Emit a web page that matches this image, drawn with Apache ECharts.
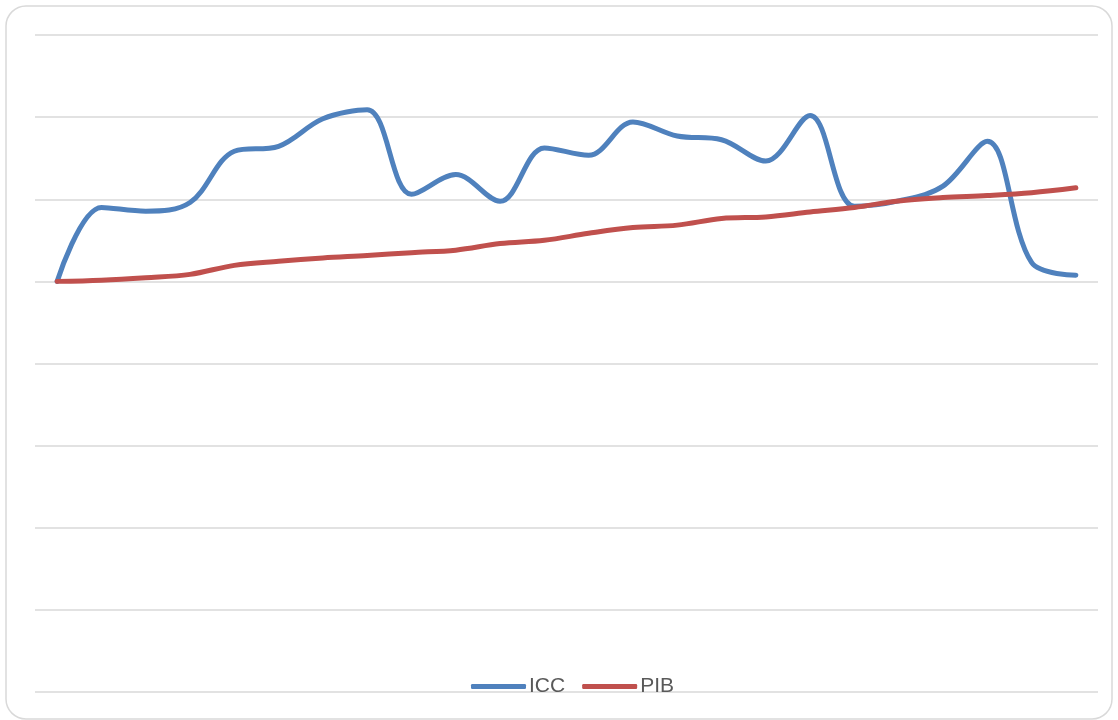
<!DOCTYPE html>
<html>
<head>
<meta charset="utf-8">
<title>ICC / PIB</title>
<script src="https://cdn.jsdelivr.net/npm/echarts@6/dist/echarts.min.js"></script>
<style>
    html, body { margin: 0; padding: 0; background: #fff; }
    #chart { width: 1118px; height: 720px; }
</style>
</head>
<body>
<div id="chart"></div>
<script>
    // periodos (trimestres), sin etiquetas visibles en el original
    var periods = ['1', '2', '3', '4', '5', '6', '7', '8', '9', '10', '11', '12',
                   '13', '14', '15', '16', '17', '18', '19', '20', '21', '22', '23', '24'];

    var icc = [0, 18.0, 17.1, 19.2, 31.7, 32.9, 39.6, 41.8, 21.2, 26.0, 19.5, 32.5,
               30.7, 38.8, 35.4, 34.5, 29.3, 40.4, 18.3, 19.6, 23.2, 34.1, 4.6, 1.5];

    var pib = [0, 0.3, 0.9, 1.7, 3.9, 4.9, 5.7, 6.3, 7.0, 7.6, 9.2, 10.0,
               11.7, 13.1, 13.7, 15.3, 15.7, 16.9, 18.0, 19.6, 20.4, 20.9, 21.6, 22.8];

    var yMin = -100, yMax = 60, yStep = 20;

    var myChart = echarts.init(document.getElementById('chart'));
    myChart.setOption({
        animation: false,
        backgroundColor: '#fff',
        graphic: [{
            type: 'rect',
            shape: {x: 6, y: 6, width: 1106, height: 713, r: 20},
            style: {fill: 'none', stroke: '#d9d9d9', lineWidth: 1.5},
            silent: true
        }],
        grid: {left: 35, right: 20, top: 35, bottom: 28},
        legend: {
            data: ['ICC', 'PIB'],
            bottom: 18,
            left: 466,
            icon: 'roundRect',
            itemWidth: 55,
            itemHeight: 5,
            itemGap: 17,
            textStyle: {
                fontFamily: 'Liberation Sans',
                fontSize: 21,
                color: '#595959',
                padding: [0, 0, 0, -2]
            }
        },
        xAxis: {
            type: 'category',
            data: periods,
            boundaryGap: true,
            axisLine: {show: false},
            axisTick: {show: false},
            axisLabel: {show: false}
        },
        yAxis: {
            type: 'value',
            min: yMin,
            max: yMax,
            interval: yStep,
            axisLine: {show: false},
            axisTick: {show: false},
            axisLabel: {show: false},
            splitLine: {lineStyle: {color: '#d9d9d9', width: 1.5}}
        },
        series: [{
            name: 'ICC',
            type: 'line',
            data: icc,
            smooth: 0.35,
            symbol: 'none',
            itemStyle: {color: '#4f81bd'},
            lineStyle: {color: '#4f81bd', width: 5, cap: 'round', join: 'round'}
        }, {
            name: 'PIB',
            type: 'line',
            data: pib,
            smooth: 0.35,
            symbol: 'none',
            itemStyle: {color: '#c0504d'},
            lineStyle: {color: '#c0504d', width: 5, cap: 'round', join: 'round'}
        }]
    });
</script>
</body>
</html>
